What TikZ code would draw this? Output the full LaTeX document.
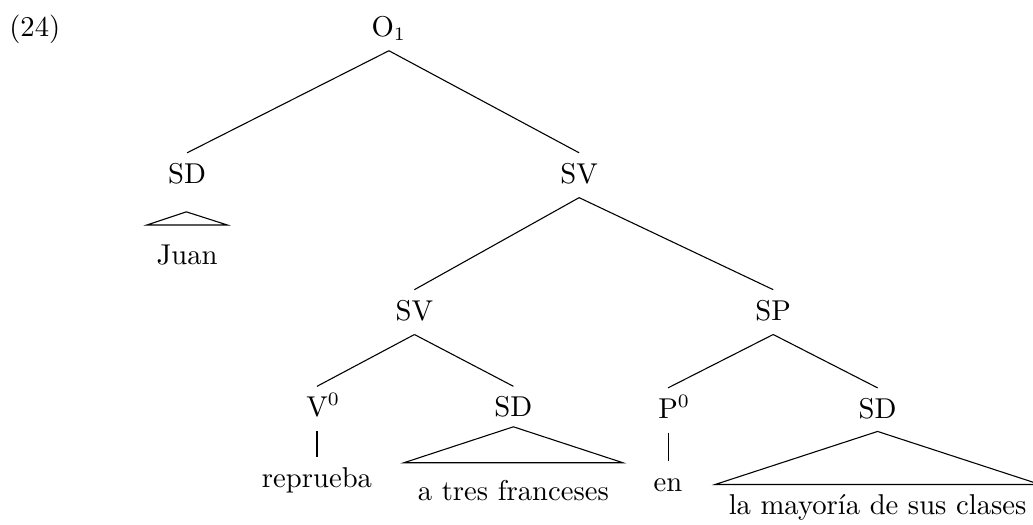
\documentclass[tikz,border=0pt]{standalone}
\usetikzlibrary{positioning}

\tikzset{
  cat/.style={anchor=base, text height=7.4pt, text depth=1.5pt, inner ysep=3.6pt},
  roof/.style={cat, inner xsep=0pt}
}

\begin{document}
\begin{tikzpicture}[font=\fontsize{10.55}{12.7}\selectfont]
\useasboundingbox (0,0) rectangle (13.36,-6.79);

\node[cat] (ex) at (0.45,-0.47) {(24)};

% categories
\node[cat] (o1)  at (5.03,-0.47) {O$_1$};
\node[cat] (sd1) at (2.42,-2.37) {SD};
\node[cat] (sv1) at (7.49,-2.37) {SV};
\node[cat] (sv2) at (5.36,-4.14) {SV};
\node[cat] (sp)  at (10.00,-4.14) {SP};
\node[cat] (v0)  at (4.10,-5.39) {V\rlap{$^0$}};
\node[cat] (sd2) at (6.64,-5.39) {SD};
\node[cat] (p0)  at (8.64,-5.41) {P\rlap{$^0$}};
\node[cat] (sd3) at (11.35,-5.41) {SD};

% words
\node[roof,inner ysep=6.9pt,minimum width=1.03cm] (juan) at (2.42,-3.42) {Juan};
\node[cat] (reprueba) at (4.10,-6.31) {reprueba};
\node[roof,inner ysep=6.2pt,minimum width=2.82cm] (tres) at (6.64,-6.47) {a tres franceses};
\node[cat] (en) at (8.64,-6.36) {en};
\node[roof,inner ysep=3.6pt,minimum width=4.19cm] (clases) at (11.35,-6.66) {la mayor\'ia de sus clases};

\coordinate (r1) at (2.41,-2.74);
\coordinate (r2) at (6.64,-5.52);
\coordinate (r3) at (11.35,-5.58);

% branches
\draw (o1.south) -- (sd1.north);
\draw (o1.south) -- (sv1.north);
\draw (sv1.south) -- (sv2.north);
\draw (sv1.south) -- (sp.north);
\draw (sv2.south) -- (v0.north);
\draw (sv2.south) -- (sd2.north);
\draw (sp.south) -- (p0.north);
\draw (sp.south) -- (sd3.north);
\draw (v0.south) -- (reprueba.north);
\draw (p0.south) -- (en.north);

% roofs
\draw (r1) -- (juan.north west) -- (juan.north east) -- cycle;
\draw (r2) -- (tres.north west) -- (tres.north east) -- cycle;
\draw (r3) -- (clases.north west) -- (clases.north east) -- cycle;

\end{tikzpicture}
\end{document}
